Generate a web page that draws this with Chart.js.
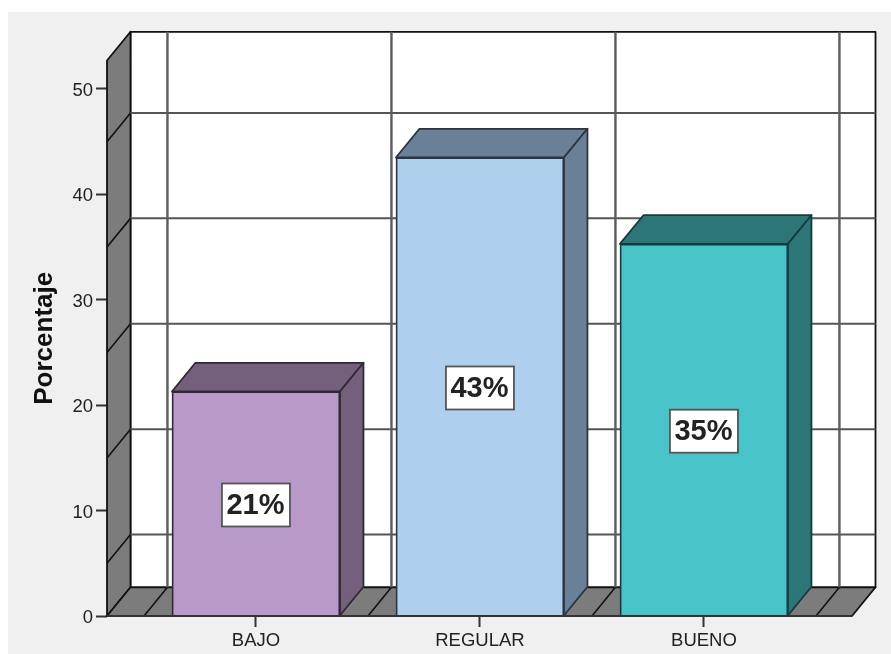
<!DOCTYPE html>
<html>
<head>
<meta charset="utf-8">
<script src="https://cdn.jsdelivr.net/npm/chart.js@4"></script>
<style>
  html, body { margin: 0; padding: 0; background: #fff; overflow: hidden; }
  #panel { position: absolute; left: 8px; top: 12px; width: 883px; height: 642px; background: #f0f0f0; }
  #chart { position: absolute; left: 0; top: 0; filter: blur(0.6px); }
</style>
</head>
<body>
<div id="panel"></div>
<canvas id="chart" width="891" height="654" style="width:891px;height:654px"></canvas>
<script>
// Data
const categories = ['BAJO', 'REGULAR', 'BUENO'];
const percentages = [21.3, 43.5, 35.3];
const barLabels = ['21%', '43%', '35%'];
const yTicks = [0, 10, 20, 30, 40, 50];
const yGridLines = [5, 15, 25, 35, 45];
const xGridLines = [-0.5, 0.5, 1.5, 2.5];

// Bar colours
const frontColors = ['#b899c8', '#aed0ee', '#48c3c8'];
const sideColors = ['#74607c', '#6a8096', '#2d7678'];
const edgeColors = ['#2e2a33', '#2a3540', '#123c3e'];

// Depth of the fake 3D box
const depthX = 23.5;
const depthY = 28.7;
const WALL = '#7c7c7c';

function poly(ctx, pts, fill, stroke, width) {
    ctx.beginPath();
    pts.forEach((p, i) => (i ? ctx.lineTo(p[0], p[1]) : ctx.moveTo(p[0], p[1])));
    ctx.closePath();
    if (fill) { ctx.fillStyle = fill; ctx.fill(); }
    if (stroke) { ctx.strokeStyle = stroke; ctx.lineWidth = width; ctx.lineJoin = 'round'; ctx.stroke(); }
}

function line(ctx, x1, y1, x2, y2, color, width) {
    ctx.beginPath();
    ctx.moveTo(x1, y1);
    ctx.lineTo(x2, y2);
    ctx.strokeStyle = color;
    ctx.lineWidth = width;
    ctx.stroke();
}

// Back wall, left wall, floor and grid, then the bar sides
const box3d = {
    id: 'box3d',
    beforeDatasetsDraw(chart) {
        const { ctx, chartArea: a, scales: { x, y } } = chart;
        ctx.save();
        // back wall
        poly(ctx, [[a.left + depthX, a.top - depthY], [a.right + depthX, a.top - depthY],
            [a.right + depthX, a.bottom - depthY], [a.left + depthX, a.bottom - depthY]], '#fff', '#111', 1.8);
        // left wall
        poly(ctx, [[a.left, a.top], [a.left + depthX, a.top - depthY],
            [a.left + depthX, a.bottom - depthY], [a.left, a.bottom]], WALL, '#111', 1.8);
        // floor
        poly(ctx, [[a.left, a.bottom], [a.left + depthX, a.bottom - depthY],
            [a.right + depthX, a.bottom - depthY], [a.right, a.bottom]], WALL, '#111', 1.8);
        // horizontal grid lines
        yGridLines.forEach(v => {
            const py = y.getPixelForValue(v);
            line(ctx, a.left, py, a.left + depthX, py - depthY, '#111', 1.6);
            line(ctx, a.left + depthX, py - depthY, a.right + depthX, py - depthY, '#555', 2);
        });
        // vertical grid lines
        xGridLines.forEach(v => {
            const px = x.getPixelForValue(v);
            line(ctx, px, a.bottom, px + depthX, a.bottom - depthY, '#111', 1.6);
            line(ctx, px + depthX, a.bottom - depthY, px + depthX, a.top - depthY, '#5c5c5c', 2.4);
        });
        // bar top and side faces
        chart.getDatasetMeta(0).data.forEach((bar, i) => {
            const l = bar.x - bar.width / 2;
            const r = bar.x + bar.width / 2;
            poly(ctx, [[l, bar.y], [l + depthX, bar.y - depthY], [r + depthX, bar.y - depthY], [r, bar.y]],
                sideColors[i], edgeColors[i], 1.8);
            poly(ctx, [[r, bar.y], [r + depthX, bar.y - depthY], [r + depthX, bar.base - depthY], [r, bar.base]],
                sideColors[i], edgeColors[i], 1.8);
        });
        ctx.restore();
    },
    afterDatasetsDraw(chart) {
        const { ctx, chartArea: a } = chart;
        ctx.save();
        // front edge of the floor
        line(ctx, a.left, a.bottom, a.right, a.bottom, '#333', 2.2);
        // labels inside the bars
        ctx.font = 'bold 29px "Liberation Sans", Arial, sans-serif';
        ctx.textAlign = 'center';
        ctx.textBaseline = 'middle';
        chart.getDatasetMeta(0).data.forEach((bar, i) => {
            const cy = (bar.y + bar.base) / 2 + 1.5;
            ctx.fillStyle = '#fff';
            ctx.fillRect(bar.x - 34, cy - 21.5, 68, 43);
            ctx.strokeStyle = '#555';
            ctx.lineWidth = 1.8;
            ctx.strokeRect(bar.x - 34, cy - 21.5, 68, 43);
            ctx.fillStyle = '#222';
            ctx.fillText(barLabels[i], bar.x - 0.5, cy + 1);
        });
        ctx.restore();
    },
};

new Chart(document.getElementById('chart').getContext('2d'), {
    type: 'bar',
    data: {
        datasets: [{
            data: percentages.map((v, i) => ({ x: i, y: v })),
            backgroundColor: frontColors,
            borderColor: edgeColors,
            borderWidth: 1.8,
            barThickness: 168,
        }],
    },
    options: {
        responsive: false,
        animation: false,
        devicePixelRatio: 1,
        layout: { padding: { left: 0, top: 60.5, right: 39, bottom: 0 } },
        plugins: { legend: { display: false }, tooltip: { enabled: false } },
        scales: {
            x: {
                type: 'linear',
                offset: false,
                min: -0.665,
                max: 2.661,
                afterBuildTicks: scale => { scale.ticks = categories.map((c, i) => ({ value: i })); },
                afterFit: scale => { scale.height = 38; },
                grid: { offset: false, drawOnChartArea: false, tickLength: 11, tickColor: '#333', tickWidth: 2 },
                border: { display: false },
                ticks: {
                    autoSkip: false,
                    maxRotation: 0,
                    padding: 3,
                    color: '#222',
                    font: { family: '"Liberation Sans", Arial, sans-serif', size: 18.5 },
                    callback: v => categories[v],
                },
            },
            y: {
                min: 0,
                max: 52.7,
                afterBuildTicks: scale => { scale.ticks = yTicks.map(v => ({ value: v })); },
                afterFit: scale => { scale.width = 107; },
                grid: { drawOnChartArea: false, tickLength: 11, tickColor: '#333', tickWidth: 2 },
                border: { display: false },
                ticks: {
                    padding: 3,
                    labelOffset: 2,
                    color: '#222',
                    font: { family: '"Liberation Sans", Arial, sans-serif', size: 18.5 },
                },
                title: {
                    display: true,
                    text: 'Porcentaje',
                    color: '#111',
                    padding: { top: 29, bottom: 0 },
                    font: { family: '"Liberation Sans", Arial, sans-serif', size: 26, weight: 'bold' },
                },
            },
        },
    },
    plugins: [box3d],
});
</script>
</body>
</html>
